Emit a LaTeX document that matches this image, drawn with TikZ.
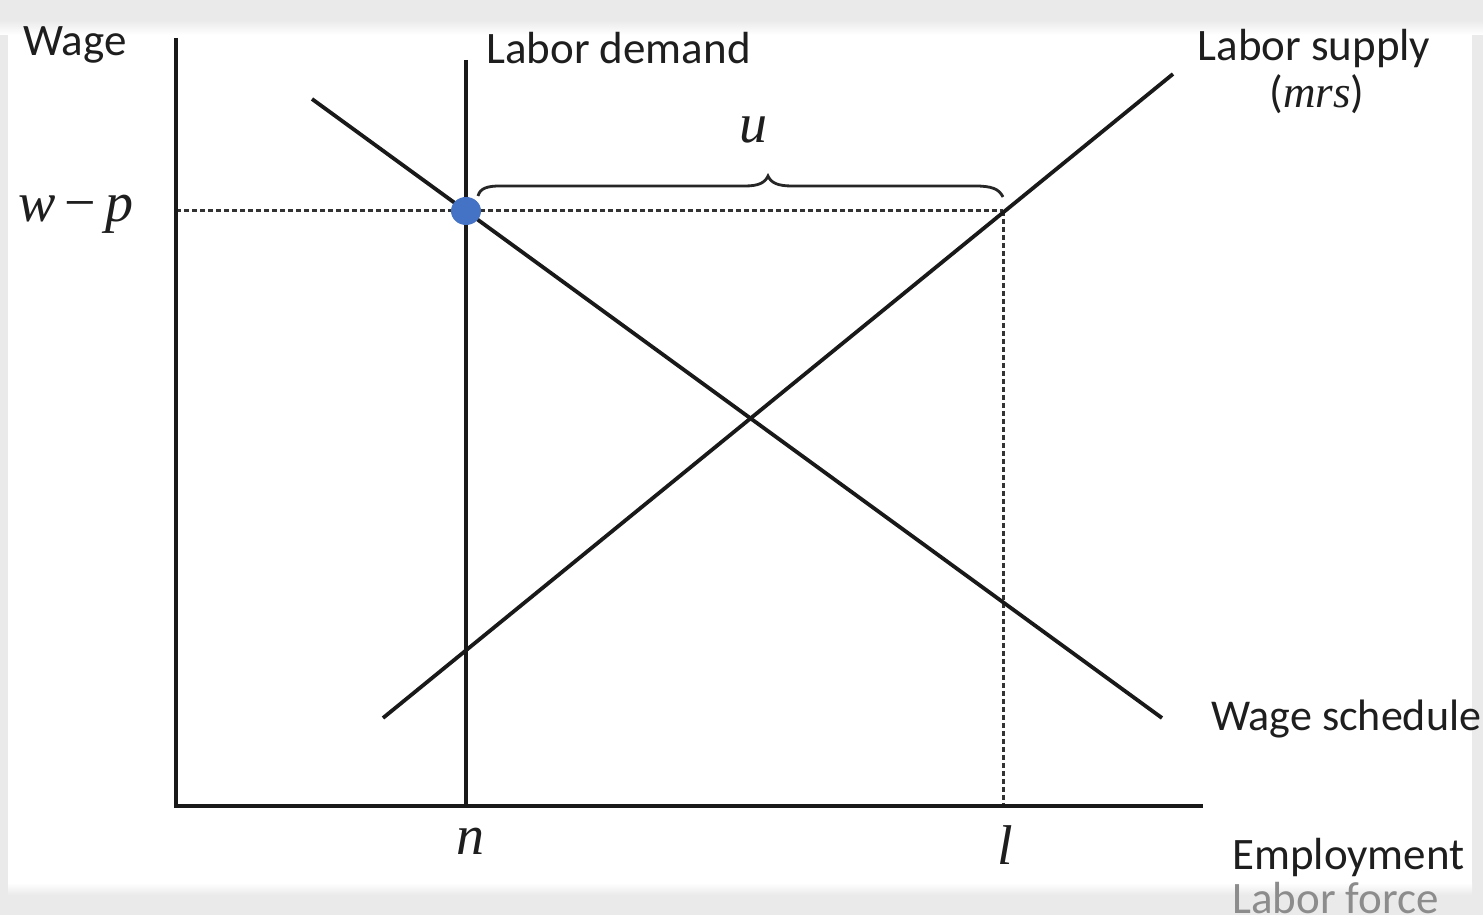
\documentclass[tikz,border=0pt]{standalone}
\usepackage{fontspec}
\setmainfont{Carlito}
\newfontfamily\mathserif{Liberation Serif}
\definecolor{bggray}{HTML}{EAEAEA}
\definecolor{txt}{HTML}{1E1E1E}
\definecolor{dotblue}{HTML}{4472C4}
\tikzset{
  curve/.style={line width=3.8pt, draw=black!90},
  axis/.style={line width=3.8pt, draw=black!90},
  guide/.style={line width=3pt, draw=black!80, dash pattern=on 5pt off 3pt},
  lbl/.style={inner sep=0pt, text=txt, font=\fontsize{45}{52}\selectfont},
  mlbl/.style={inner sep=0pt, text=txt, font=\fontsize{56}{64}\selectfont\mathserif\itshape},
}
\begin{document}
\begin{tikzpicture}[x=1pt,y=1pt]
\useasboundingbox (0,0) rectangle (1483,915);
\clip (0,0) rectangle (1483,915);
% background frame
\fill[bggray] (0,0) rectangle (1483,915);
\fill[white] (8,20) rectangle (1472,885);
\shade[top color=bggray, bottom color=white] (0,880) rectangle (1483,895);
\fill[bggray] (0,895) rectangle (1483,915);
\shade[top color=white, bottom color=bggray] (8,20) rectangle (1472,32);
\fill[bggray] (0,0) rectangle (1483,20);

% coordinates
\coordinate (O) at (176,109);
\coordinate (Ytop) at (176,877);
\coordinate (Xend) at (1203,109);
\coordinate (Dtop) at (466,855);
\coordinate (Dbot) at (466,109);
\coordinate (Ws1) at (312,816);
\coordinate (Ws2) at (1162,197);
\coordinate (Ls1) at (383,197);
\coordinate (Ls2) at (1173,841);
\coordinate (Wy) at (176,704);
\coordinate (Lw) at (1003,704);
\coordinate (Lx) at (1003,109);

% guides
\draw[guide] (Wy) -- (Lw);
\draw[guide] (Lw) -- (Lx);

% axes and curves
\draw[axis] (Ytop) -- (O) -- (Xend);
\draw[curve, line width=4.5pt] (Dtop) -- (Dbot);
\draw[curve] (Ws1) -- (Ws2);
\draw[curve] (Ls1) -- (Ls2);

% brace
\draw[line width=2.8pt, draw=black!85] (478,719) .. controls (480,727) and (488,729) .. (500,729) -- (745,729) .. controls (758,729) and (765,732) .. (768,739) .. controls (771,732) and (778,729) .. (792,729) -- (975,729) .. controls (992,729) and (999,726) .. (1003,718);

% dot
\fill[dotblue] (466,704) circle [x radius=15, y radius=14];

% labels
\node[lbl, anchor=base west] (wage) at (23,859) {Wage};
\node[lbl, anchor=base west] (ldem) at (486,851) {Labor demand};
\node[lbl, anchor=base] (lsup) at (1314,854) {Labor supply};
\node[lbl, anchor=base] (mrs) at (1317,807) {({\mathserif\itshape mrs})};
\node[mlbl, anchor=base] (u) at (753,772) {u};
\node[mlbl, anchor=base west] (wp) at (18,693) {w\,{\upshape −}\,p};
\node[mlbl, anchor=base] (n) at (470,60) {n};
\node[mlbl, anchor=base] (l) at (1005,50) {l};
\node[lbl, anchor=base west, font=\fontsize{44}{52}\selectfont] (wsch) at (1211,184) {Wage schedule};
\node[lbl, anchor=base west] (emp) at (1232,45) {Employment};
\node[lbl, anchor=base west, text=black!45] (lf) at (1232,1) {Labor force};
\end{tikzpicture}
\end{document}
